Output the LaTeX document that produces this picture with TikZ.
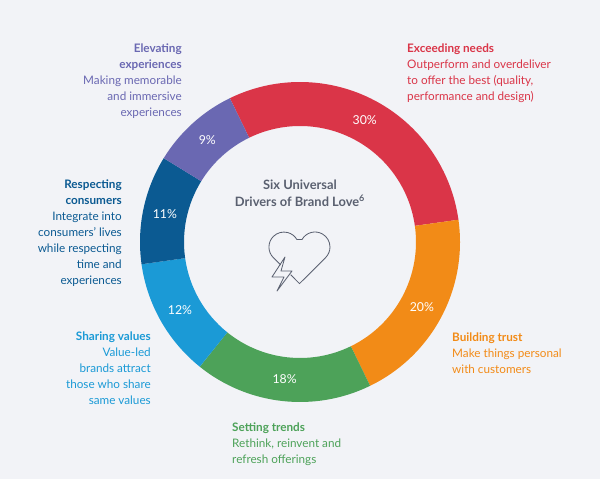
\documentclass[tikz,border=0pt]{standalone}
\usepackage{fontspec}
\setmainfont{Lato}
\definecolor{cRed}{HTML}{DA3548}
\definecolor{cOrange}{HTML}{F28B17}
\definecolor{cGreen}{HTML}{4DA259}
\definecolor{cLight}{HTML}{1B9AD6}
\definecolor{cDark}{HTML}{0B5A92}
\definecolor{cPurple}{HTML}{6A68B2}
\definecolor{cBg}{HTML}{F2F3F7}
\definecolor{cIcon}{HTML}{5A6070}
\tikzset{
  txt/.style={font=\fontsize{10}{13.6}\selectfont, inner sep=0pt},
  lblL/.style={txt, anchor=north west, align=left},
  lblR/.style={txt, anchor=north east, align=right},
  pct/.style={txt, text=white, font=\fontsize{10.5}{12}\selectfont},
  icon/.style={cIcon, line width=0.7pt, line join=round}
}
\newcommand{\seg}[3]{%
  \fill[#3] (9,7.11) ++(#1:4.8) arc (#1:#2:4.8) -- ($(9,7.11)+(#2:3.48)$) arc (#2:#1:3.48) -- cycle;}
\usetikzlibrary{calc}
\begin{document}
\begin{tikzpicture}
  \fill[cBg] (0,0) rectangle (18,14.37);
  \coordinate (c) at (9,7.11);
  % ring
  \seg{116}{8}{cRed}
  \seg{8}{-64}{cOrange}
  \seg{-64}{-128.8}{cGreen}
  \seg{-128.8}{-172}{cLight}
  \seg{-172}{-211.6}{cDark}
  \seg{-211.6}{-244}{cPurple}
  % percentages
  \node[pct] (p1) at ($(c)+(62:4.14)$) {30\%};
  \node[pct] (p2) at ($(c)+(-28:4.14)$) {20\%};
  \node[pct] (p3) at ($(c)+(-96.4:4.14)$) {18\%};
  \node[pct] (p4) at ($(c)+(-150.4:4.14)$) {12\%};
  \node[pct] (p5) at ($(c)+(-191.8:4.14)$) {11\%};
  \node[pct] (p6) at ($(c)+(-227.8:4.14)$) {9\%};
  % centre
  \node[txt, align=center, text=cIcon, font=\fontsize{11}{14.5}\selectfont\bfseries] (title) at (9,8.58) {Six Universal\\Drivers of Brand Love\textsuperscript{6}};
  \draw[icon] (8.42,6.42) -- (8.20,6.64) arc (225:30:0.45) -- (9.06,7.185)
    arc (150:-45:0.45) -- (8.985,5.86) -- (8.72,6.13);
  \draw[icon] (8.55,6.66) -- (8.16,6.06) -- (8.52,6.06) -- (8.31,5.64)
    -- (8.76,6.24) -- (8.43,6.24) -- cycle;
  % labels
  \node[lblL, text=cRed] (l1) at (12.21,13.05) {\textbf{Exceeding needs}\\Outperform and overdeliver\\to offer the best (quality,\\performance and design)};
  \node[lblL, text=cOrange] (l2) at (13.56,4.38) {\textbf{Building trust}\\Make things personal\\with customers};
  \node[lblL, text=cGreen] (l3) at (6.96,1.68) {\textbf{Setting trends}\\Rethink, reinvent and\\refresh offerings};
  \node[lblR, text=cLight] (l4) at (4.53,4.41) {\textbf{Sharing values}\\Value-led\\brands attract\\those who share\\same values};
  \node[lblR, text=cDark] (l5) at (3.66,8.98) {\textbf{Respecting}\\\textbf{consumers}\\Integrate into\\consumers' lives\\while respecting\\time and\\experiences};
  \node[lblR, text=cPurple] (l6) at (5.46,13.05) {\textbf{Elevating}\\\textbf{experiences}\\Making memorable\\and immersive\\experiences};
\end{tikzpicture}
\end{document}
